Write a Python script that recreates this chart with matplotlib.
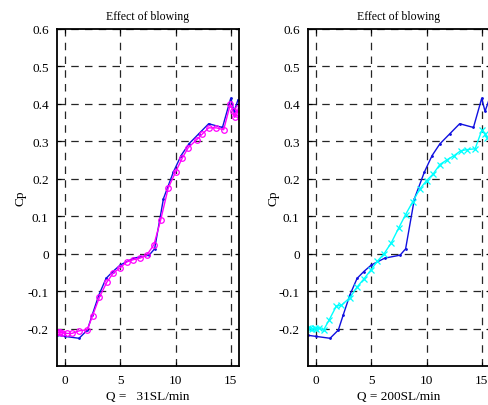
import matplotlib.pyplot as plt

# baseline (no blowing), blue line - same in both panels
base_x = [-0.75, 0, 1.25, 2.0, 2.45, 3.05, 3.7, 4.3, 5.0, 6.2, 7.6, 8.1, 8.9,
          9.8, 10.5, 11.2, 12.1, 13.0, 14.25, 15.0, 15.3, 15.65]
base_y = [-0.218, -0.221, -0.226, -0.204, -0.163, -0.11, -0.066, -0.048, -0.03,
          -0.012, -0.004, 0.013, 0.147, 0.218, 0.262, 0.293, 0.32, 0.347, 0.337,
          0.415, 0.38, 0.41]

# Q = 31 SL/min (magenta circles)
q31_x = [-0.75, -0.6, -0.45, -0.3, 0.15, 0.6, 1.27, 2.0, 2.47, 3.1, 3.77, 4.37,
         4.97, 5.57, 6.17, 6.78, 7.38, 8.04, 8.64, 9.33, 10.0, 10.6, 11.14, 11.9,
         12.44, 13.0, 13.7, 14.36, 14.97, 15.2, 15.36, 15.55, 15.7]
q31_y = [-0.209, -0.21, -0.208, -0.211, -0.213, -0.213, -0.206, -0.203, -0.166,
         -0.116, -0.076, -0.051, -0.038, -0.022, -0.016, -0.012, -0.004, 0.024,
         0.089, 0.175, 0.218, 0.255, 0.283, 0.304, 0.32, 0.336, 0.336, 0.331,
         0.4, 0.38, 0.364, 0.372, 0.39]

# Q = 200 SL/min (cyan crosses)
q200_x = [-0.76, -0.55, -0.35, -0.15, 0.0, 0.21, 0.66, 1.15, 1.82, 2.27, 3.03,
          3.7, 4.33, 4.94, 5.54, 6.15, 6.8, 7.48, 8.09, 8.73, 9.39, 10.0, 10.6,
          11.2, 11.87, 12.5, 13.1, 13.7, 14.4, 15.0, 15.3, 15.5]
q200_y = [-0.198, -0.199, -0.2, -0.199, -0.2, -0.198, -0.204, -0.178, -0.14,
          -0.138, -0.118, -0.089, -0.067, -0.044, -0.02, 0.0, 0.029, 0.069, 0.104,
          0.138, 0.173, 0.195, 0.213, 0.238, 0.251, 0.262, 0.275, 0.278, 0.28,
          0.329, 0.32, 0.31]

plt.rcParams['font.family'] = ['Liberation Serif', 'DejaVu Serif']

fig = plt.figure(figsize=(4.88, 4.06), dpi=100)
ax1 = fig.add_axes([57/488, 39/406, 182/488, 337/406])
ax2 = fig.add_axes([308/488, 39/406, 182/488, 337/406])


def style(ax, xlabel, ylabelpad):
    ax.set_xlim(-0.75, 15.75)
    ax.set_ylim(-0.3, 0.6)
    ax.set_xticks([0, 5, 10, 15])
    ax.set_yticks([-0.2, -0.1, 0, 0.1, 0.2, 0.3, 0.4, 0.5, 0.6])
    ax.set_yticklabels(['-0.2', '-0.1', '0', '0.1', '0.2', '0.3', '0.4', '0.5', '0.6'])
    ax.tick_params(direction='in', length=3, width=0.8, labelsize=9.5,
                   top=True, right=True, pad=6)
    ax.grid(True, color='0.15', linestyle=(0, (6, 5)), linewidth=0.9)
    for s in ax.spines.values():
        s.set_linewidth(1.3)
    ax.set_title('Effect of blowing', fontsize=8.5, pad=7)
    ax.set_xlabel(xlabel, fontsize=9.5, labelpad=3)
    ax.set_ylabel('Cp', fontsize=9.5, labelpad=ylabelpad)


ax1.plot(base_x, base_y, color='#1010e0', lw=1, marker='.', ms=2)
ax1.plot(q31_x, q31_y, color='magenta', lw=1, marker='o', ms=4, mfc='none', mew=0.9)
style(ax1, 'Q =   31SL/min', 1)

ax2.plot(base_x, base_y, color='#1010e0', lw=1, marker='.', ms=2)
ax2.plot(q200_x, q200_y, color='cyan', lw=1, marker='x', ms=4, mew=0.9)
style(ax2, 'Q = 200SL/min', -1)

fig.savefig('out.png', dpi=100)
